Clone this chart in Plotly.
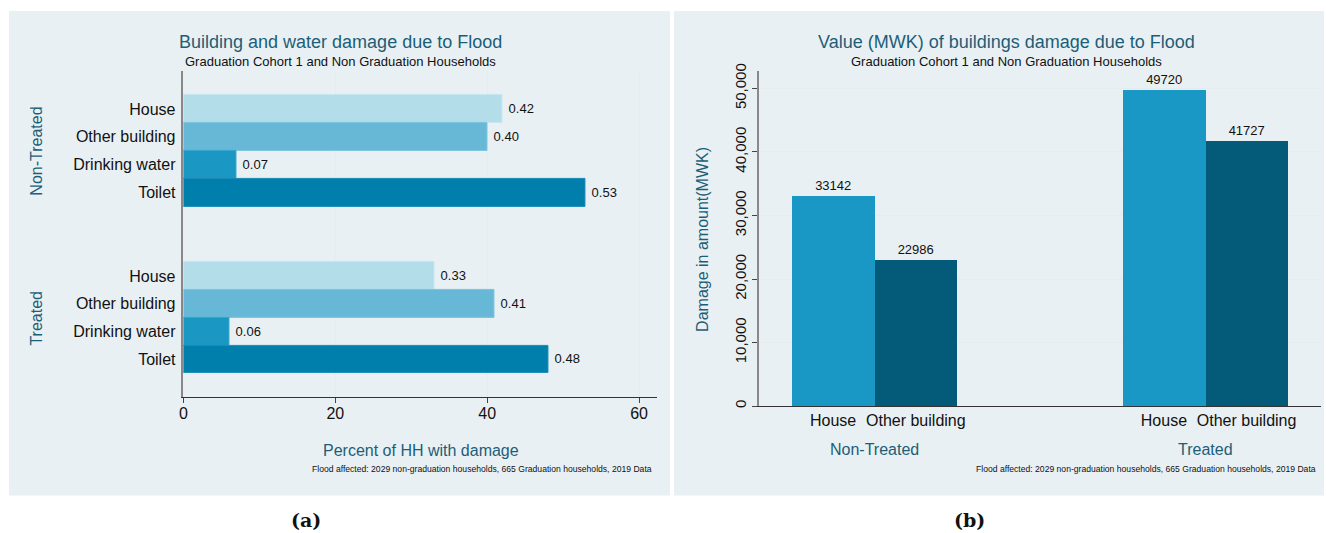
import plotly.graph_objects as go

# ---------------- data ----------------
groups = ["Non-Treated", "Treated"]
items_a = ["House", "Other building", "Drinking water", "Toilet"]
share_a = {
    "Non-Treated": [0.42, 0.40, 0.07, 0.53],
    "Treated": [0.33, 0.41, 0.06, 0.48],
}
items_b = ["House", "Other building"]
value_b = {
    "House": [33142, 49720],
    "Other building": [22986, 41727],
}
x_ticks_a = [0, 20, 40, 60]
y_ticks_b = [0, 10000, 20000, 30000, 40000, 50000]

title_a = "Building and water damage due to Flood"
title_b = "Value (MWK) of buildings damage due to Flood"
subtitle = "Graduation Cohort 1 and Non Graduation Households"
footnote = "Flood affected: 2029 non-graduation households, 665 Graduation households, 2019 Data"

# ---------------- style ----------------
W, H = 1326, 533
FONT = "Liberation Sans, Arial, Helvetica, sans-serif"
TEAL = "#1c5e77"
PANEL = "#e9f0f3"
GRID = "#e4ecf0"
colors_a = ["#b3dde9", "#67b8d6", "#1b97c4", "#007eac"]
lines_a = ["#c6e6ef", "#7cc3dd", "#35a3cc", "#1a8bb6"]
colors_b = ["#1a98c5", "#045a79"]
NBSP = "\u00a0"


def px(x):
    return x / W


def py(y):
    return 1 - y / H


fig = go.Figure()

# ---------- panel (a): horizontal bars ----------
period = len(items_a) + 2
tickvals_a, ticktext_a = [], []
for g, grp in enumerate(groups):
    for i, item in enumerate(items_a):
        tickvals_a.append(g * period + i)
        ticktext_a.append(item)
for i, item in enumerate(items_a):
    xs = [share_a[grp][i] * 100 for grp in groups]
    ys = [g * period + i for g in range(len(groups))]
    fig.add_trace(go.Bar(
        x=xs, y=ys, orientation="h", width=1,
        marker=dict(color=colors_a[i], line=dict(color=lines_a[i], width=1)),
        text=[NBSP + f"{share_a[grp][i]:.2f}" for grp in groups],
        textposition="outside", cliponaxis=False,
        textfont=dict(size=13, color="#111", family=FONT),
        xaxis="x", yaxis="y", showlegend=False, name=item,
    ))

# ---------- panel (b): vertical grouped bars ----------
bw = 0.25
tickvals_b, ticktext_b = [], []
for j, item in enumerate(items_b):
    xs = [g + (j - (len(items_b) - 1) / 2) * bw for g in range(len(groups))]
    tickvals_b += xs
    ticktext_b += [item] * len(groups)
    fig.add_trace(go.Bar(
        x=xs, y=value_b[item], width=bw,
        marker=dict(color=colors_b[j], line=dict(width=0)),
        text=[str(v) for v in value_b[item]],
        textposition="outside", cliponaxis=False,
        textfont=dict(size=13, color="#111", family=FONT),
        xaxis="x2", yaxis="y2", showlegend=False, name=item,
    ))

slot_top = -1.37
slot_bottom = 10.36
PLOT_TOP = 65

fig.update_layout(
    width=W, height=H,
    margin=dict(l=0, r=0, t=0, b=0),
    paper_bgcolor="white",
    plot_bgcolor="white",
    font=dict(family=FONT, color="#111"),
    bargap=0,
    xaxis=dict(
        domain=[px(180), px(655)], anchor="y",
        range=[0, 62.36], tickvals=x_ticks_a,
        ticks="outside", ticklen=5, tickcolor="#444",
        ticklabelstandoff=-3,
        tickfont=dict(size=16, family=FONT, color="#111"),
        showgrid=True, gridcolor=GRID, gridwidth=1,
        zeroline=False, showline=True, linecolor="#333", linewidth=1,
    ),
    yaxis=dict(
        domain=[py(397), py(PLOT_TOP)], anchor="x",
        range=[slot_bottom, slot_top],
        tickvals=tickvals_a, ticktext=ticktext_a,
        ticks="", ticklabelstandoff=3,
        tickfont=dict(size=16, family=FONT, color="#111"),
        showgrid=False, zeroline=False,
        showline=True, linecolor="#888", linewidth=1.5,
    ),
    xaxis2=dict(
        domain=[px(757), px(1321)], anchor="y2",
        range=[-0.35, 1.35], tickvals=tickvals_b, ticktext=ticktext_b,
        ticks="", ticklen=0,
        tickfont=dict(size=16, family=FONT, color="#111"),
        showgrid=False, zeroline=False,
        showline=True, linecolor="#333", linewidth=1,
    ),
    yaxis2=dict(
        domain=[py(406), py(PLOT_TOP)], anchor="x2",
        range=[0, 52750], tickvals=y_ticks_b, tickformat=",",
        tickangle=-90,
        ticks="outside", ticklen=5, tickcolor="#444",
        tickfont=dict(size=15, family=FONT, color="#111"),
        showgrid=True, gridcolor=GRID, gridwidth=1,
        zeroline=False, showline=True, linecolor="#888", linewidth=1.5,
    ),
)

# panel backgrounds
fig.add_shape(type="rect", xref="paper", yref="paper",
              x0=px(5), x1=px(668), y0=py(497), y1=py(4),
              fillcolor=PANEL, line=dict(width=0), layer="below")
fig.add_shape(type="rect", xref="paper", yref="paper",
              x0=px(672), x1=px(1324), y0=py(497), y1=py(4),
              fillcolor=PANEL, line=dict(width=0), layer="below")

ann = []
# titles
for cx, t in [(338, title_a), (1006, title_b)]:
    ann.append(dict(text=t, x=px(cx), y=py(36), xref="paper", yref="paper",
                    xanchor="center", yanchor="middle", showarrow=False,
                    font=dict(size=18, color=TEAL, family=FONT)))
    ann.append(dict(text=subtitle, x=px(cx), y=py(55), xref="paper", yref="paper",
                    xanchor="center", yanchor="middle", showarrow=False,
                    font=dict(size=13, color="#111", family=FONT)))
# footnotes
for rx in [652, 1318]:
    ann.append(dict(text=footnote, x=px(rx), y=py(470), xref="paper", yref="paper",
                    xanchor="right", yanchor="middle", showarrow=False,
                    font=dict(size=8.6, color="#111", family=FONT)))
# panel (a) axis title
ann.append(dict(text="Percent of HH with damage", x=px(418), y=py(451),
                xref="paper", yref="paper", xanchor="center", yanchor="middle",
                showarrow=False, font=dict(size=16, color=TEAL, family=FONT)))
# panel (a) group labels
for g, grp in enumerate(groups):
    ann.append(dict(text=grp, x=px(33), y=g * period + (len(items_a) - 1) / 2,
                    xref="paper", yref="y", xanchor="center", yanchor="middle",
                    textangle=-90, showarrow=False,
                    font=dict(size=16, color=TEAL, family=FONT)))
# panel (b) group labels
for g, grp in enumerate(groups):
    ann.append(dict(text=grp, x=g, y=py(450), xref="x2", yref="paper",
                    xanchor="center", yanchor="middle", showarrow=False,
                    font=dict(size=16, color=TEAL, family=FONT)))
# panel (b) y title
ann.append(dict(text="Damage in amount(MWK)", x=px(700), y=py(236),
                xref="paper", yref="paper", xanchor="center", yanchor="middle",
                textangle=-90, showarrow=False,
                font=dict(size=16, color=TEAL, family=FONT)))
# captions
for cx, t in [(303, "(a)"), (968, "(b)")]:
    ann.append(dict(text=f"<b>{t}</b>", x=px(cx), y=py(522), xref="paper", yref="paper",
                    xanchor="center", yanchor="middle", showarrow=False,
                    font=dict(size=19, color="#111",
                              family="DejaVu Serif, Liberation Serif, serif")))
fig.update_layout(annotations=ann)

fig.write_html(
    "out.html",
    config={"displayModeBar": False},
    post_script="document.documentElement.style.margin='0';"
                "document.body.style.margin='0';"
                "document.body.style.overflow='hidden';",
)
